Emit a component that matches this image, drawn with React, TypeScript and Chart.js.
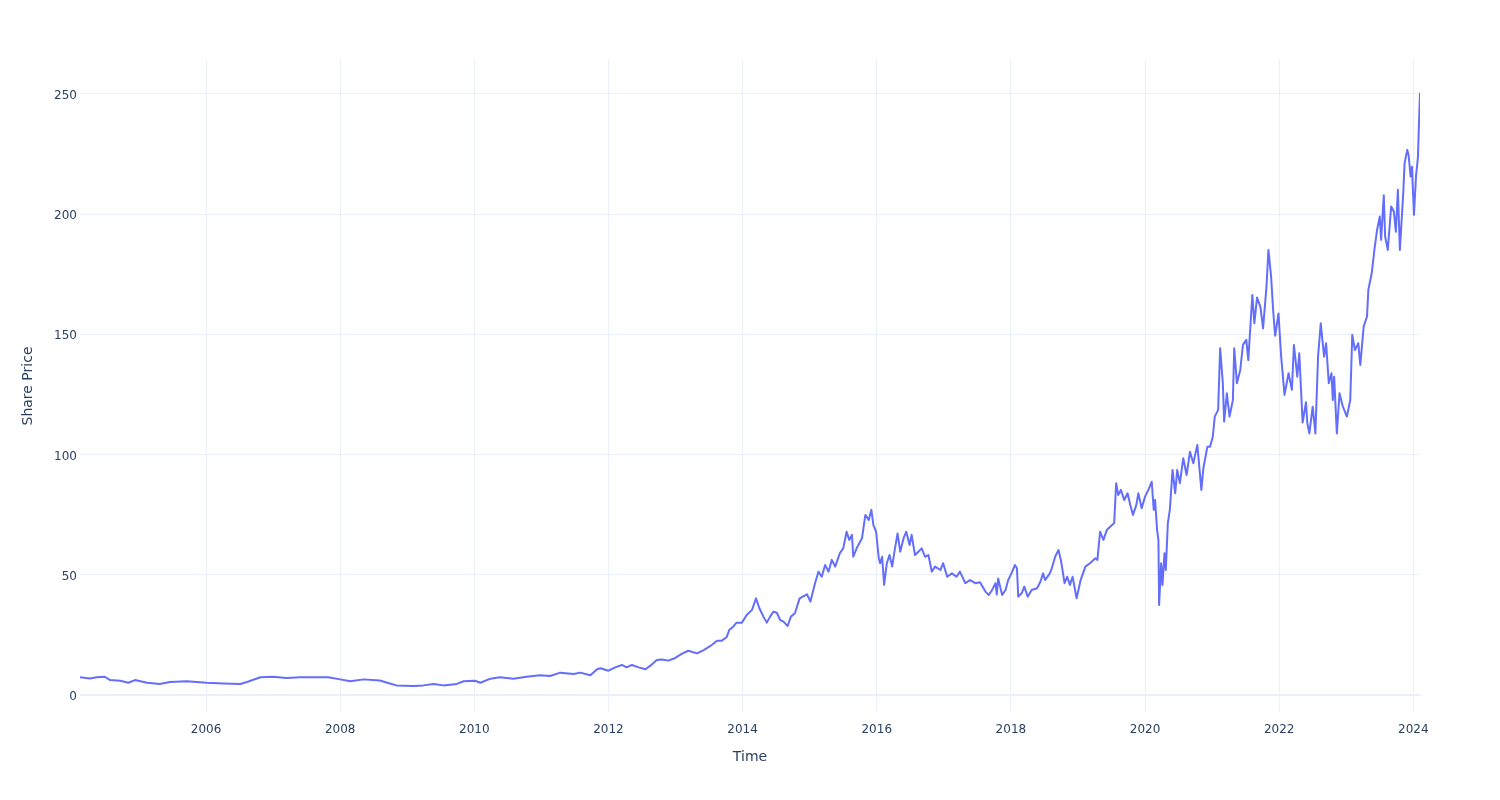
import React, { useEffect, useRef } from "react";
import { Chart, registerables } from "chart.js";

Chart.register(...registerables);

// Dates are decimal years, prices in USD.
const years2004to2011 = [
  2004.12, 2004.27, 2004.37, 2004.49, 2004.57, 2004.72, 2004.84, 2004.94, 2005.12, 2005.31,
  2005.46, 2005.71, 2006.01, 2006.26, 2006.51, 2006.61, 2006.81, 2007.0, 2007.2, 2007.4,
  2007.6, 2007.82, 2008.0, 2008.15, 2008.35, 2008.59, 2008.74, 2008.84, 2009.09, 2009.24,
  2009.39, 2009.54, 2009.74, 2009.84, 2010.01, 2010.09, 2010.24, 2010.38, 2010.58, 2010.78,
  2010.98, 2011.13, 2011.28, 2011.48, 2011.58, 2011.73, 2011.83,
];
const prices2004to2011 = [
  7.4, 6.9, 7.4, 7.6, 6.2, 5.9, 5.1, 6.2, 5.1, 4.6,
  5.4, 5.7, 5.1, 4.8, 4.6, 5.4, 7.4, 7.6, 7.1, 7.4,
  7.4, 7.4, 6.5, 5.7, 6.5, 6.0, 4.8, 4.0, 3.7, 4.0,
  4.6, 4.0, 4.6, 5.7, 5.9, 5.1, 6.8, 7.4, 6.8, 7.6,
  8.2, 7.9, 9.3, 8.7, 9.3, 8.2, 10.7,
];

const years2012to2014 = [
  2011.88, 2012.0, 2012.1, 2012.2, 2012.27, 2012.35, 2012.45, 2012.55, 2012.62, 2012.72,
  2012.8, 2012.89, 2012.99, 2013.09, 2013.19, 2013.32, 2013.42, 2013.52, 2013.62, 2013.69,
  2013.76, 2013.8, 2013.86, 2013.91, 2013.99, 2014.06, 2014.14, 2014.2, 2014.25, 2014.31,
  2014.36, 2014.41, 2014.46, 2014.51, 2014.56, 2014.61, 2014.67, 2014.72, 2014.78, 2014.85,
];
const prices2012to2014 = [
  11.1, 10.1, 11.5, 12.5, 11.5, 12.5, 11.5, 10.7, 12.1, 14.6,
  14.8, 14.3, 15.3, 17.1, 18.4, 17.3, 18.7, 20.4, 22.6, 22.6,
  24.0, 27.0, 28.4, 30.1, 30.1, 33.3, 35.4, 40.2, 36.1, 32.6,
  30.1, 32.6, 34.7, 34.2, 31.2, 30.5, 28.7, 32.6, 34.0, 40.2,
];

const years2015to2017 = [
  2014.96, 2015.01, 2015.08, 2015.13, 2015.18, 2015.23, 2015.28, 2015.33, 2015.38, 2015.45,
  2015.5, 2015.55, 2015.59, 2015.63, 2015.65, 2015.7, 2015.78, 2015.83, 2015.88, 2015.92,
  2015.95, 2015.99, 2016.03, 2016.05, 2016.08, 2016.11, 2016.15, 2016.19, 2016.23, 2016.26,
  2016.31, 2016.35, 2016.4, 2016.44, 2016.49, 2016.52, 2016.57, 2016.62, 2016.67, 2016.72,
  2016.77, 2016.82, 2016.87, 2016.95, 2016.99, 2017.05, 2017.12, 2017.19, 2017.24, 2017.32,
  2017.39, 2017.47, 2017.54, 2017.62, 2017.67, 2017.72, 2017.77, 2017.79,
];
const prices2015to2017 = [
  41.9, 38.8, 46.5, 51.3, 49.2, 54.1, 51.3, 56.2, 53.4, 59.0,
  61.0, 67.9, 64.5, 66.6, 57.5, 61.0, 65.2, 74.9, 72.8, 77.0,
  70.7, 67.9, 56.9, 54.8, 57.5, 45.8, 54.8, 58.2, 53.4, 59.0,
  67.2, 59.6, 65.2, 67.9, 62.4, 66.6, 58.2, 59.6, 61.0, 57.5,
  58.2, 51.3, 53.4, 52.0, 54.8, 49.2, 50.6, 49.2, 51.3, 46.5,
  47.8, 46.5, 46.9, 43.0, 41.6, 43.7, 46.5, 41.8,
];

const years2018to2020 = [
  2017.81, 2017.87, 2017.92, 2017.96, 2018.02, 2018.06, 2018.09, 2018.11, 2018.16, 2018.2,
  2018.25, 2018.31, 2018.39, 2018.44, 2018.48, 2018.51, 2018.58, 2018.61, 2018.66, 2018.71,
  2018.75, 2018.8, 2018.84, 2018.88, 2018.92, 2018.98, 2019.04, 2019.11, 2019.18, 2019.26,
  2019.29, 2019.33, 2019.38, 2019.43, 2019.48, 2019.54, 2019.57, 2019.6, 2019.64, 2019.69,
  2019.74, 2019.78, 2019.82, 2019.87, 2019.9, 2019.95, 2020.0, 2020.05, 2020.1, 2020.13,
  2020.15, 2020.18, 2020.2, 2020.21,
];
const prices2018to2020 = [
  48.5, 41.6, 43.7, 47.8, 51.3, 54.1, 52.7, 40.9, 42.3, 45.1,
  40.9, 43.7, 44.4, 47.1, 50.6, 47.8, 50.6, 52.7, 57.5, 60.3,
  55.5, 46.5, 49.2, 45.8, 49.2, 40.2, 47.8, 53.4, 54.8, 56.9,
  56.2, 67.9, 64.5, 68.6, 70.0, 71.5, 88.1, 83.2, 85.3, 81.1,
  83.9, 79.0, 74.9, 79.0, 83.9, 77.7, 82.5, 85.3, 88.7, 77.0,
  81.1, 68.6, 64.5, 37.4,
];

const years2020to2021 = [
  2020.24, 2020.26, 2020.29, 2020.31, 2020.34, 2020.37, 2020.41, 2020.45, 2020.48, 2020.52,
  2020.57, 2020.62, 2020.67, 2020.72, 2020.78, 2020.84, 2020.87, 2020.93, 2020.97, 2021.01,
  2021.04, 2021.09, 2021.12, 2021.16, 2021.18, 2021.22, 2021.26, 2021.31, 2021.33, 2021.37,
  2021.42, 2021.46, 2021.51, 2021.54,
];
const prices2020to2021 = [
  54.8, 45.8, 59.0, 52.0, 71.5, 77.0, 93.6, 83.9, 93.6, 88.1,
  98.5, 91.5, 101.2, 96.4, 104.0, 85.3, 94.3, 103.3, 103.3, 107.4,
  115.8, 118.6, 144.2, 129.7, 113.7, 125.5, 115.8, 122.7, 144.2, 129.7,
  135.2, 145.6, 147.7, 139.3,
];

const years2021to2024 = [
  2021.58, 2021.6, 2021.63, 2021.67, 2021.72, 2021.76, 2021.81, 2021.84, 2021.88, 2021.91,
  2021.94, 2021.99, 2022.03, 2022.08, 2022.14, 2022.19, 2022.22, 2022.27, 2022.3, 2022.35,
  2022.4, 2022.42, 2022.45, 2022.5, 2022.54, 2022.58, 2022.62, 2022.67, 2022.7, 2022.74,
  2022.78, 2022.8, 2022.82, 2022.86, 2022.9, 2022.95, 2023.01, 2023.06, 2023.09, 2023.13,
  2023.18, 2023.21, 2023.26, 2023.31, 2023.33, 2023.38, 2023.42, 2023.46, 2023.5, 2023.52,
  2023.56, 2023.58, 2023.62, 2023.67, 2023.71, 2023.74, 2023.77, 2023.8, 2023.85, 2023.87,
  2023.91, 2023.93, 2023.96, 2023.98, 2024.01, 2024.04, 2024.07, 2024.08, 2024.1,
];
const prices2021to2024 = [
  157.4, 166.4, 154.6, 165.3, 161.5, 152.5, 169.5, 185.1, 174.0, 160.1,
  149.4, 158.7, 140.7, 124.8, 133.8, 126.9, 145.6, 132.4, 142.1, 113.3,
  121.8, 113.0, 108.8, 119.9, 108.8, 140.7, 154.6, 140.7, 146.3, 129.7,
  133.8, 122.7, 132.4, 108.8, 125.5, 119.9, 115.8, 122.7, 149.8, 143.5,
  146.3, 137.3, 153.2, 157.4, 168.5, 175.4, 185.1, 193.4, 199.0, 189.3,
  207.9, 190.7, 185.1, 203.2, 201.1, 192.7, 210.1, 185.1, 208.7, 221.1,
  226.7, 224.6, 215.6, 219.7, 199.7, 215.6, 223.9, 233.6, 250.5,
];

const xTickYears = [2006, 2008, 2010, 2012, 2014, 2016, 2018, 2020, 2022, 2024];
const yTickValues = [0, 50, 100, 150, 200, 250];

const allYears = [
  ...years2004to2011,
  ...years2012to2014,
  ...years2015to2017,
  ...years2018to2020,
  ...years2020to2021,
  ...years2021to2024,
];
const allPrices = [
  ...prices2004to2011,
  ...prices2012to2014,
  ...prices2015to2017,
  ...prices2018to2020,
  ...prices2020to2021,
  ...prices2021to2024,
];

const FONT = "'DejaVu Sans', Verdana, Arial, sans-serif";
const TEXT = "#2a3f5f";
const GRID = "#EBF0F8";

export default function App() {
  const ref = useRef<HTMLCanvasElement | null>(null);

  useEffect(() => {
    if (!ref.current) return;
    const points = allYears.map((x, i) => ({ x, y: allPrices[i] }));
    const chart = new Chart(ref.current, {
      type: "line",
      data: {
        datasets: [
          {
            data: points,
            borderColor: "#636efa",
            backgroundColor: "#636efa",
            borderWidth: 2,
            pointRadius: 0,
            tension: 0,
            borderJoinStyle: "round",
            fill: false,
          },
        ],
      },
      options: {
        animation: false,
        responsive: false,
        devicePixelRatio: 1,
        layout: { padding: { top: 60, right: 80, left: 0, bottom: 0 } },
        plugins: { legend: { display: false }, tooltip: { enabled: false } },
        scales: {
          x: {
            type: "linear",
            min: 2004.12,
            max: 2024.1,
            afterBuildTicks: (scale: any) => {
              scale.ticks = xTickYears.map((v) => ({ value: v }));
            },
            afterFit: (scale: any) => {
              scale.height = 88;
            },
            grid: { color: GRID, lineWidth: 1, drawTicks: false },
            border: { display: false },
            ticks: {
              color: TEXT,
              font: { family: FONT, size: 12 },
              padding: 11,
              maxRotation: 0,
              autoSkip: false,
              callback: (v: any) => String(v),
            },
            title: {
              display: true,
              text: "Time",
              color: TEXT,
              font: { family: FONT, size: 14 },
              padding: { top: 0, bottom: 34 },
            },
          },
          y: {
            type: "linear",
            min: -7.07,
            max: 264.1,
            afterBuildTicks: (scale: any) => {
              scale.ticks = yTickValues.map((v) => ({ value: v }));
            },
            afterFit: (scale: any) => {
              scale.width = 80;
            },
            grid: {
              color: GRID,
              lineWidth: (ctx: any) => (ctx.tick && ctx.tick.value === 0 ? 2 : 1),
              drawTicks: false,
            },
            border: { display: false },
            ticks: {
              color: TEXT,
              font: { family: FONT, size: 12 },
              padding: 3,
              labelOffset: 2,
              callback: (v: any) => String(v),
            },
            title: {
              display: true,
              text: "Share Price",
              color: TEXT,
              font: { family: FONT, size: 14 },
              padding: { top: 20, bottom: 0 },
            },
          },
        },
      },
    });
    return () => chart.destroy();
  }, []);

  return (
    <div style={{ position: "absolute", left: 0, top: 0, width: 1500, height: 800, background: "#fff" }}>
      <canvas ref={ref} width={1500} height={800} />
    </div>
  );
}
